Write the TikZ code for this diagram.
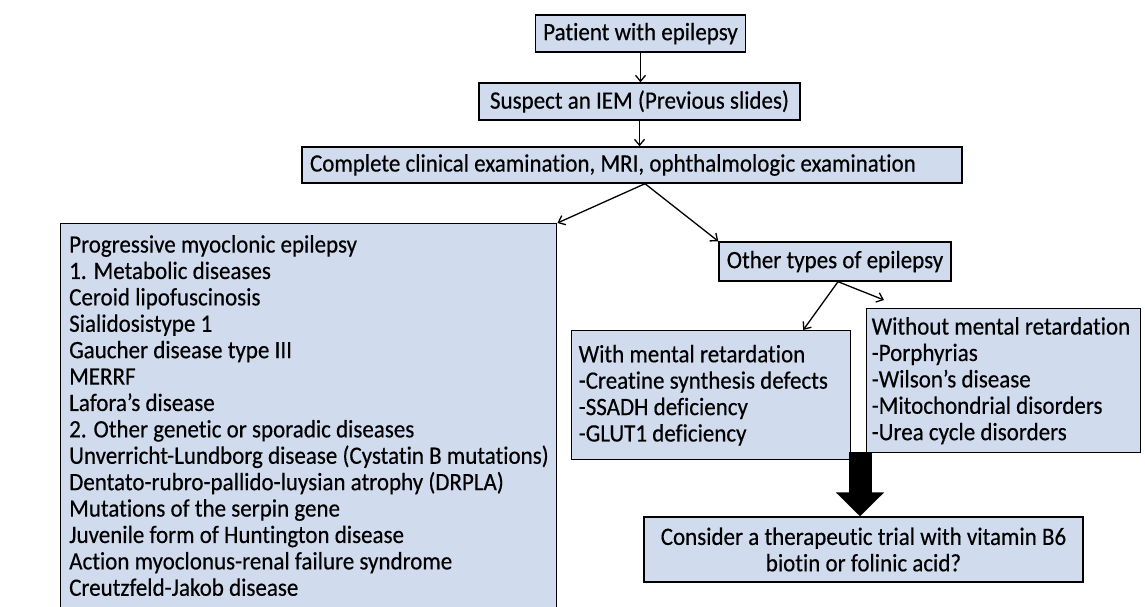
\documentclass[tikz,border=0pt]{standalone}
\usepackage{fontspec}
\setmainfont{Carlito}[FakeStretch=0.92, FakeBold=0.4, Ligatures=NoCommon]
\usetikzlibrary{arrows.meta,positioning}
\definecolor{boxblue}{RGB}{208,220,238}
\tikzset{
  box/.style={draw=black, line width=1.4pt, fill=boxblue, inner sep=0pt},
  arr/.style={-{Straight Barb[length=6pt,width=10pt]}, line width=1.3pt},
  listtext/.style={anchor=north west, align=flush left, inner sep=0pt},
}

\begin{document}
\begin{tikzpicture}[x=1pt, y=-1pt, every node/.style={font=\fontsize{25}{26.4}\selectfont}]
  \useasboundingbox (0,0) rectangle (1145,606);
  \node[box, minimum width=210pt, minimum height=37pt] (patient) at (640.5,33.5) {Patient with epilepsy};
  \node[box, minimum width=321pt, minimum height=37pt] (suspect) at (639.5,101.5) {Suspect an IEM (Previous slides)};
  \node[box, text width=644pt, inner xsep=8pt, minimum height=36pt, align=flush left] (exam) at (632,165) {Complete clinical examination, MRI, ophthalmologic examination};
  \node[box, anchor=north west, minimum width=496pt, minimum height=400pt] (pme) at (60,223) {};
  \node[listtext] (pmelist) at (69,235) {Progressive myoclonic epilepsy\\
    1. Metabolic diseases\\
    Ceroid lipofuscinosis\\
    Sialidosistype 1\\
    Gaucher disease type III\\
    MERRF\\
    Lafora's disease\\
    2. Other genetic or sporadic diseases\\
    Unverricht-Lundborg disease (Cystatin B mutations)\\
    Dentato-rubro-pallido-luysian atrophy (DRPLA)\\
    Mutations of the serpin gene\\
    Juvenile form of Huntington disease\\
    Action myoclonus-renal failure syndrome\\
    Creutzfeld-Jakob disease};
  \node[box, minimum width=232pt, minimum height=39pt] (other) at (835,261.5) {Other types of epilepsy};
  \node[box, anchor=north west, text width=265pt, inner xsep=7pt, minimum height=129pt, align=flush left] (withmr) at (571,330) {With mental retardation\\
    -Creatine synthesis defects\\
    -SSADH deficiency\\
    -GLUT1 deficiency};
  \node[box, anchor=north west, text width=264pt, inner xsep=5pt, minimum height=144pt, align=flush left] (withoutmr) at (866,308) {Without mental retardation\\
    -Porphyrias\\
    -Wilson's disease\\
    -Mitochondrial disorders\\
    -Urea cycle disorders};
  \node[box, minimum width=439pt, minimum height=65pt, align=center] (trial) at (863.5,549.5) {Consider a therapeutic trial with vitamin B6\\biotin or folinic acid?};

  \coordinate (split) at ([xshift=13pt]exam.south);
  \coordinate (fork) at ([xshift=3pt]other.south);
  \coordinate (bigtop) at (860,452);
  \draw[arr] (patient.south) -- (patient.south |- suspect.north);
  \draw[arr] (suspect.south) -- (suspect.south |- exam.north);
  \draw[arr] (split) -- (pme.north east);
  \draw[arr] (split) -- (other.north west);
  \draw[arr] (fork) -- ([xshift=92pt]withmr.north);
  \draw[arr] (fork) -- ([xshift=18pt,yshift=8pt]withoutmr.north west);
  \draw[line width=23pt, -{Triangle[length=24pt,width=47pt]}] (bigtop) -- (bigtop |- trial.north);
\end{tikzpicture}
\end{document}
